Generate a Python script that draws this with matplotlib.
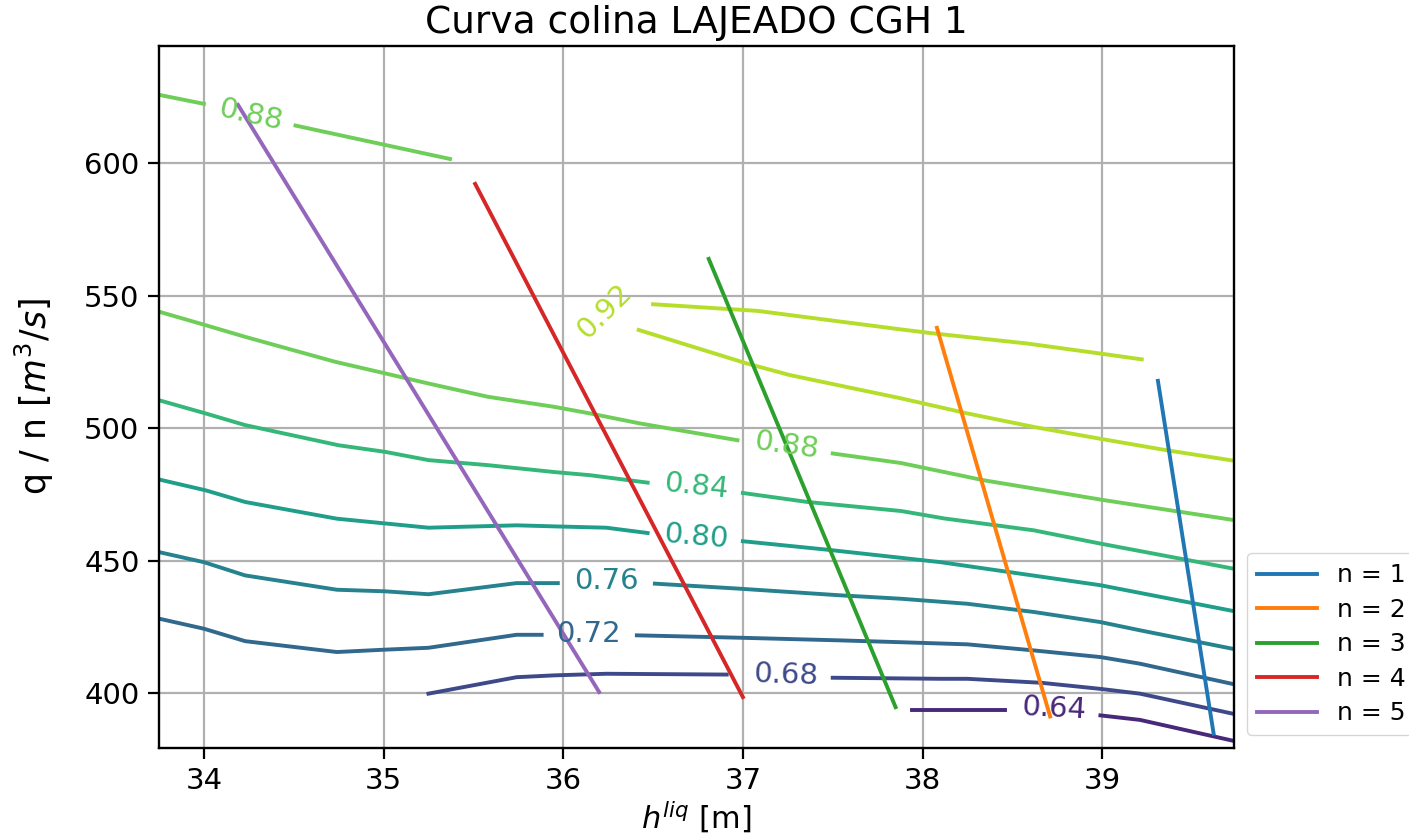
import matplotlib
matplotlib.use("Agg")
import matplotlib.pyplot as plt
from matplotlib.colors import Normalize

# Efficiency levels of the hill chart
levels = [0.64, 0.68, 0.72, 0.76, 0.80, 0.84, 0.88, 0.92]

# Iso-efficiency curves: each is a list of (h_liq, q/n) runs; the breaks
# between runs leave room for the inline level label.
iso_064 = [
    ([37.94, 38.46], [393.6, 393.6]),
    ([38.99, 39.21, 39.75], [391.7, 390.0, 381.8]),
]
iso_068 = [
    ([35.25, 35.74, 35.95, 36.24, 36.91], [399.9, 406.1, 406.8, 407.4, 407.1]),
    ([37.50, 38.10, 38.25, 38.66, 38.99, 39.21, 39.75],
     [405.9, 405.5, 405.5, 404.0, 401.7, 399.9, 392.0]),
]
iso_072 = [
    ([33.75, 34.00, 34.23, 34.74, 35.01, 35.25, 35.74, 35.88],
     [428.2, 424.4, 419.7, 415.6, 416.5, 417.2, 422.1, 422.1]),
    ([36.41, 36.98, 37.54, 37.88, 38.25, 38.62, 38.99, 39.21, 39.75],
     [421.9, 421.0, 420.0, 419.3, 418.5, 416.2, 413.7, 411.2, 403.2]),
]
iso_076 = [
    ([33.75, 34.00, 34.23, 34.74, 35.01, 35.25, 35.74, 35.97],
     [453.3, 449.5, 444.5, 439.1, 438.5, 437.4, 441.6, 441.6]),
    ([36.51, 36.98, 37.54, 37.88, 38.25, 38.62, 38.99, 39.21, 39.75],
     [441.4, 439.5, 437.0, 435.7, 433.8, 430.7, 426.9, 423.8, 416.5]),
]
iso_080 = [
    ([33.75, 34.01, 34.23, 34.74, 35.01, 35.25, 35.74, 35.95, 36.24, 36.47],
     [480.7, 476.6, 472.2, 465.9, 464.1, 462.5, 463.4, 463.0, 462.5, 460.5]),
    ([37.00, 37.47, 38.10, 38.99, 39.75], [457.4, 454.2, 449.5, 440.8, 430.8]),
]
iso_084 = [
    ([33.75, 34.01, 34.23, 34.75, 35.01, 35.25, 35.58, 35.95, 36.15, 36.47],
     [510.6, 505.6, 501.2, 493.6, 491.1, 488.0, 486.1, 483.5, 482.3, 479.5]),
    ([37.00, 37.36, 37.88, 38.12, 38.62, 38.99, 39.75],
     [475.6, 472.2, 468.8, 466.0, 461.5, 456.5, 446.8]),
]
iso_088 = [
    ([33.75, 34.00], [625.8, 622.4]),
    ([34.51, 35.37], [614.2, 601.6]),
    ([33.75, 34.01, 34.23, 34.73, 35.01, 35.25, 35.58, 35.95, 36.15, 36.43, 36.97],
     [544.0, 538.9, 534.5, 525.1, 520.7, 516.9, 511.9, 508.1, 505.6, 501.8, 495.5]),
    ([37.50, 37.88, 38.34, 39.01, 39.75], [490.5, 486.9, 480.4, 472.9, 465.2]),
]
iso_092 = [
    ([36.42, 37.02, 37.26, 37.88, 38.25, 38.62, 39.01, 39.36, 39.75],
     [537.1, 524.5, 520.1, 511.3, 505.6, 500.5, 495.8, 491.7, 487.6]),
    ([36.50, 37.08, 37.88, 38.06, 38.58, 39.01, 39.22],
     [546.8, 544.3, 537.3, 535.8, 532.0, 528.0, 526.0]),
]

# Inline labels of the curves
lbl_level = [0.92, 0.88, 0.88, 0.84, 0.80, 0.76, 0.72, 0.68, 0.64]
lbl_h = [36.23, 34.26, 37.24, 36.74, 36.74, 36.24, 36.14, 37.24, 38.73]
lbl_q = [544.2, 618.2, 493.6, 477.9, 459.0, 442.4, 422.3, 406.8, 394.2]
lbl_rot = [45, -12.5, -8, -6, -5, 0, 0, -2, -3]

# Operating lines for the number of units in service
unit_names = ["n = 1", "n = 2", "n = 3", "n = 4", "n = 5"]
unit_h = [[39.31, 39.62], [38.08, 38.71], [36.81, 37.85], [35.51, 37.00], [34.19, 36.20]]
unit_q = [[517.9, 384.8], [537.9, 391.3], [563.9, 394.8], [592.2, 398.6], [622.0, 400.5]]
unit_colors = ["#1f77b4", "#ff7f0e", "#2ca02c", "#d62728", "#9467bd"]

xticks = [34, 35, 36, 37, 38, 39]
yticks = [400, 450, 500, 550, 600]

iso_lines = dict(zip(levels, [iso_064, iso_068, iso_072, iso_076,
                              iso_080, iso_084, iso_088, iso_092]))
cmap = plt.get_cmap("viridis")
norm = Normalize(vmin=0.60, vmax=0.96)

fig = plt.figure(figsize=(14.09, 8.35), dpi=100)
ax = fig.add_axes([0.1128, 0.1042, 0.7632, 0.8413])

LW = 2.8
for lev, runs in iso_lines.items():
    for hx, qy in runs:
        ax.plot(hx, qy, color=cmap(norm(lev)), lw=LW, zorder=2)

for lev, hx, qy, rot in zip(lbl_level, lbl_h, lbl_q, lbl_rot):
    ax.text(hx, qy, f"{lev:.2f}", color=cmap(norm(lev)), fontsize=21,
            ha="center", va="center", rotation=rot, rotation_mode="anchor",
            zorder=3)

for name, hx, qy, c in zip(unit_names, unit_h, unit_q, unit_colors):
    ax.plot(hx, qy, color=c, lw=LW, label=name, zorder=2.5)

ax.set_xlim(33.75, 39.735)
ax.set_ylim(379.4, 644.4)
ax.set_xticks(xticks)
ax.set_yticks(yticks)
ax.grid(True, color="#b0b0b0", lw=1.6)
ax.tick_params(labelsize=21, length=8, width=1.6, pad=6)
for s in ax.spines.values():
    s.set_linewidth(1.7)

ax.set_title("Curva colina LAJEADO CGH 1", fontsize=27, pad=9)
ax.set_xlabel(r"$h^{liq}$ [m]", fontsize=22, labelpad=3)
ax.set_ylabel(r"q / n $[m^3/s]$", fontsize=25, labelpad=20)

ax.legend(loc="lower left", bbox_to_anchor=(1.0, 0.0), fontsize=18,
          labelspacing=0.42, handlelength=2.4, borderaxespad=0.5)

fig.savefig("out.png", dpi=100)
